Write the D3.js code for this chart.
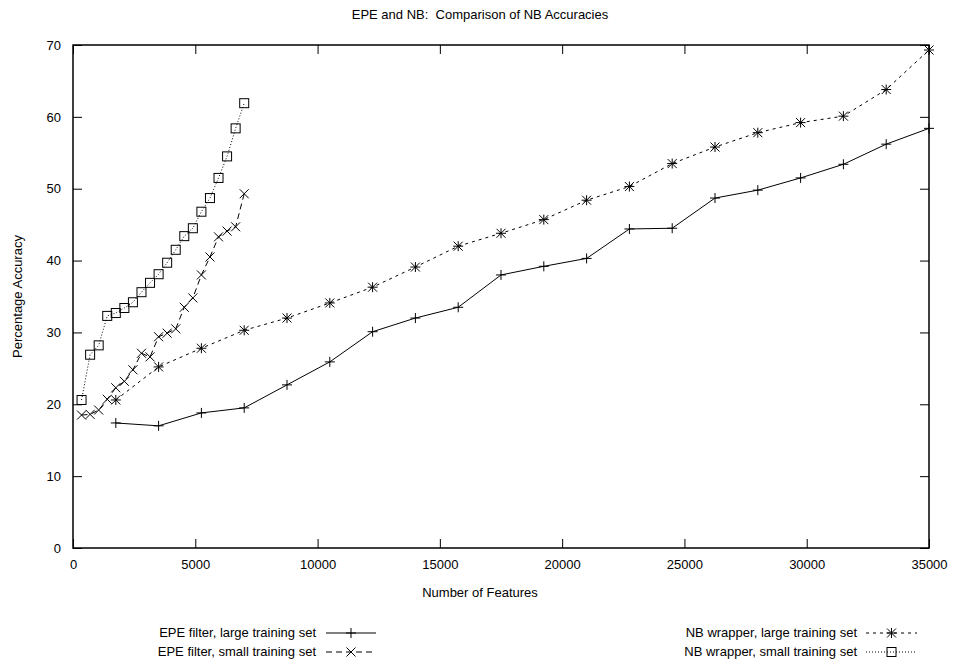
<!DOCTYPE html>
<html>
<head>
<meta charset="utf-8">
<script src="https://cdn.jsdelivr.net/npm/d3@7"></script>
<style>
  html, body { margin: 0; padding: 0; background: #fff; }
  svg text { font-family: "Liberation Sans", Arial, Helvetica, sans-serif; fill: #000; }
</style>
</head>
<body>
<svg id="chart" width="958" height="666"></svg>
<script>
// Feature counts used for each experiment
const largeFeatures = [1750, 3500, 5250, 7000, 8750, 10500, 12250, 14000, 15750, 17500,
                       19250, 21000, 22750, 24500, 26250, 28000, 29750, 31500, 33250, 35000];
const smallFeatures = [350, 700, 1050, 1400, 1750, 2100, 2450, 2800, 3150, 3500,
                       3850, 4200, 4550, 4900, 5250, 5600, 5950, 6300, 6650, 7000];

// Accuracy (%) per series
const epeLarge = [17.4, 17.0, 18.8, 19.5, 22.7, 25.9, 30.1, 32.0, 33.5, 38.0,
                  39.2, 40.3, 44.4, 44.5, 48.7, 49.8, 51.5, 53.4, 56.2, 58.4];
const epeSmall = [18.5, 18.6, 19.2, 20.7, 22.3, 23.2, 24.8, 27.1, 26.6, 29.4,
                  29.9, 30.5, 33.5, 34.8, 38.0, 40.5, 43.3, 44.1, 44.7, 49.3];
const nbLarge  = [20.6, 25.2, 27.8, 30.3, 32.0, 34.1, 36.3, 39.1, 42.0, 43.8,
                  45.7, 48.4, 50.3, 53.5, 55.8, 57.8, 59.2, 60.1, 63.8, 69.3];
const nbSmall  = [20.6, 26.9, 28.2, 32.3, 32.7, 33.4, 34.2, 35.6, 36.9, 38.1,
                  39.7, 41.5, 43.4, 44.5, 46.8, 48.7, 51.5, 54.5, 58.4, 61.9];

const seriesNames = ["EPE filter, large training set", "EPE filter, small training set",
                     "NB wrapper, large training set", "NB wrapper, small training set"];

const xTicks = [0, 5000, 10000, 15000, 20000, 25000, 30000, 35000];
const yTicks = [0, 10, 20, 30, 40, 50, 60, 70];

const titleText = "EPE and NB:  Comparison of NB Accuracies";
const xLabel = "Number of Features";
const yLabel = "Percentage Accuracy";

const series = [
  { name: seriesNames[0], xs: largeFeatures, ys: epeLarge, dash: null,   marker: "plus" },
  { name: seriesNames[1], xs: smallFeatures, ys: epeSmall, dash: "6,4",  marker: "cross" },
  { name: seriesNames[2], xs: largeFeatures, ys: nbLarge,  dash: "3,4",  marker: "star" },
  { name: seriesNames[3], xs: smallFeatures, ys: nbSmall,  dash: "1,2",  marker: "square" }
];

const svg = d3.select("#chart");
const m = { left: 73, right: 929, top: 45, bottom: 548 };

const x = d3.scaleLinear().domain([0, 35000]).range([m.left, m.right]);
const y = d3.scaleLinear().domain([0, 70]).range([m.bottom, m.top]);

const fontSize = 13;
const tickLen = 9;
const centerX = 480;

// Title
svg.append("text")
  .attr("x", centerX).attr("y", 19)
  .attr("text-anchor", "middle")
  .attr("font-size", fontSize)
  .style("white-space", "pre")
  .attr("xml:space", "preserve")
  .text(titleText);

// Axes: ticks pointing inward, mirrored on top and right
const fmt = d3.format("d");
const bottomAxis = d3.axisBottom(x).tickValues(xTicks).tickFormat(fmt).tickSizeInner(-tickLen).tickSizeOuter(0).tickPadding(12);
const topAxis = d3.axisTop(x).tickValues(xTicks).tickSizeInner(-tickLen).tickSizeOuter(0).tickFormat("");
const leftAxis = d3.axisLeft(y).tickValues(yTicks).tickFormat(fmt).tickSizeInner(-tickLen).tickSizeOuter(0).tickPadding(12);
const rightAxis = d3.axisRight(y).tickValues(yTicks).tickSizeInner(-tickLen).tickSizeOuter(0).tickFormat("");

function styleAxis(g) {
  g.select(".domain").remove();
  g.selectAll(".tick line").attr("stroke", "#000").attr("stroke-width", 1);
  g.selectAll(".tick text").attr("font-size", fontSize).attr("font-family", null);
}

svg.append("g").attr("transform", `translate(0,${m.bottom})`).call(bottomAxis).call(styleAxis);
svg.append("g").attr("transform", `translate(0,${m.top})`).call(topAxis).call(styleAxis);
svg.append("g").attr("transform", `translate(${m.left},0)`).call(leftAxis).call(styleAxis);
svg.append("g").attr("transform", `translate(${m.right},0)`).call(rightAxis).call(styleAxis);

// Plot frame
svg.append("rect")
  .attr("x", m.left).attr("y", m.top)
  .attr("width", m.right - m.left).attr("height", m.bottom - m.top)
  .attr("fill", "none").attr("stroke", "#000").attr("stroke-width", 1.5);

// Axis labels
svg.append("text")
  .attr("x", centerX).attr("y", 597)
  .attr("text-anchor", "middle").attr("font-size", fontSize)
  .text(xLabel);

svg.append("text")
  .attr("transform", `translate(22,${(m.top + m.bottom) / 2}) rotate(-90)`)
  .attr("text-anchor", "middle").attr("font-size", fontSize)
  .text(yLabel);

// Point markers
function drawMarker(g, type, cx, cy) {
  const s = 5;
  const d = 4.5;
  function seg(x1, y1, x2, y2) {
    g.append("line")
      .attr("x1", x1).attr("y1", y1).attr("x2", x2).attr("y2", y2)
      .attr("stroke", "#000").attr("stroke-width", 1);
  }
  if (type === "plus" || type === "star") {
    seg(cx - s, cy, cx + s, cy);
    seg(cx, cy - s, cx, cy + s);
  }
  if (type === "cross" || type === "star") {
    seg(cx - d, cy - d, cx + d, cy + d);
    seg(cx - d, cy + d, cx + d, cy - d);
  }
  if (type === "square") {
    g.append("rect")
      .attr("x", cx - 4.5).attr("y", cy - 4.5)
      .attr("width", 9).attr("height", 9)
      .attr("fill", "none").attr("stroke", "#000").attr("stroke-width", 1);
  }
}

const line = d3.line().x(d => x(d[0])).y(d => y(d[1]));

series.forEach(s => {
  const pts = s.xs.map((v, i) => [v, s.ys[i]]);
  svg.append("path")
    .datum(pts)
    .attr("d", line)
    .attr("fill", "none")
    .attr("stroke", "#000")
    .attr("stroke-width", 1)
    .attr("stroke-dasharray", s.dash);
  const g = svg.append("g");
  pts.forEach(p => drawMarker(g, s.marker, x(p[0]), y(p[1])));
});

// Legend: two columns, text right-aligned before a line sample
const legendPos = [
  { tx: 316, ty: 637, lx1: 326, lx2: 376 },
  { tx: 316, ty: 656, lx1: 326, lx2: 376 },
  { tx: 857, ty: 637, lx1: 866, lx2: 917 },
  { tx: 857, ty: 656, lx1: 866, lx2: 917 }
];

series.forEach((s, i) => {
  const p = legendPos[i];
  svg.append("text")
    .attr("x", p.tx).attr("y", p.ty)
    .attr("text-anchor", "end").attr("font-size", fontSize)
    .text(s.name);
  const ly = p.ty - 4;
  svg.append("line")
    .attr("x1", p.lx1).attr("x2", p.lx2).attr("y1", ly).attr("y2", ly)
    .attr("stroke", "#000").attr("stroke-width", 1)
    .attr("stroke-dasharray", s.dash);
  const g = svg.append("g");
  drawMarker(g, s.marker, (p.lx1 + p.lx2) / 2, ly);
});
</script>
</body>
</html>
